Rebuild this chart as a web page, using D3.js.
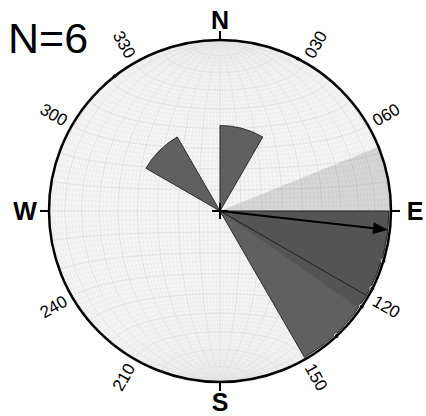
<!DOCTYPE html>
<html>
<head>
<meta charset="utf-8">
<script src="https://d3js.org/d3.v7.min.js"></script>
<style>
  body { margin: 0; background: #fff; }
  svg { display: block; font-family: "Liberation Sans", Arial, sans-serif; }
</style>
</head>
<body>
<div id="rose"></div>
<script>
// rose diagram data (azimuth bins of 30 deg)
var binStart = [0, 30, 60, 90, 120, 150, 180, 210, 240, 270, 300, 330];
var counts   = [1, 0, 0, 2, 2, 0, 0, 0, 0, 0, 1, 0];
var azimuths = [322, 27, 107, 117, 124, 137];
var meanDir = 96.4;
var confCone = [68, 125];
var compass = ["N", "E", "S", "W"];
var compassAz = [0, 90, 180, 270];
var degLabels = ["030", "060", "120", "150", "210", "240", "300", "330"];
var degAz = [30, 60, 120, 150, 210, 240, 300, 330];

width = 426
height = 416
cx = 220
cy = 211
R = 171

var rad = d => d * Math.PI / 180;
var r = d3.scaleLinear().domain([0, d3.max(counts)]).range([0, R]);

var svg = d3.select('#rose').append('svg').attr('width', width).attr('height', height)

svg.append('defs').append('clipPath').attr('id', 'net')
   .append('circle').attr('cx', cx).attr('cy', cy).attr('r', R)

// equal area net background
svg.append('circle').attr('cx', cx).attr('cy', cy).attr('r', R).attr('fill', '#f5f5f5')

var proj = d3.geoAzimuthalEqualArea().rotate([0, 0]).scale(R / Math.SQRT2)
             .translate([cx, cy]).clipAngle(90)
var path = d3.geoPath(proj)
var net = svg.append('g').attr('clip-path', 'url(#net)').attr('fill', 'none')
net.append('path').datum(d3.geoGraticule().step([2, 2])())
   .attr('d', path).attr('stroke', '#e7e7e7').attr('stroke-width', 0.6)
net.append('path').datum(d3.geoGraticule().step([10, 10])())
   .attr('d', path).attr('stroke', '#dfdfdf').attr('stroke-width', 0.8)

// petals
var arc = d3.arc().innerRadius(0)
var g = svg.append('g').attr('transform', 'translate(' + cx + ',' + cy + ')')
g.selectAll('path.petal')
  .data(binStart.map((b, i) => ({start: b, n: counts[i]})).filter(d => d.n > 0))
  .join('path')
    .attr('class', 'petal')
    .attr('d', d => arc({startAngle: rad(d.start), endAngle: rad(d.start + 30),
                         outerRadius: Math.min(r(d.n), R - 2)}))
    .attr('fill', '#606060')
    .attr('stroke', '#2a2a2a')
    .attr('stroke-width', 1)

// confidence cone around the mean direction
g.append('path')
  .attr('d', arc({startAngle: rad(confCone[0]), endAngle: rad(confCone[1]), outerRadius: R - 1}))
  .attr('fill', '#000').attr('fill-opacity', 0.12)

// rim
svg.append('circle').attr('cx', cx).attr('cy', cy).attr('r', R)
   .attr('fill', 'none').attr('stroke', '#000').attr('stroke-width', 2.5)

// data points on the rim
g.selectAll('circle.pt').data(azimuths).join('circle')
  .attr('class', 'pt')
  .attr('cx', d => R * Math.sin(rad(d)))
  .attr('cy', d => -R * Math.cos(rad(d)))
  .attr('r', 2.4)
  .attr('fill', '#000').attr('stroke', '#fff').attr('stroke-width', 1)

// mean vector arrow
var ax = d => (R - 2) * Math.sin(rad(d)), ay = d => -(R - 2) * Math.cos(rad(d));
var ex = ax(meanDir), ey = ay(meanDir);
var ux = Math.sin(rad(meanDir)), uy = -Math.cos(rad(meanDir));
g.append('line').attr('x1', 0).attr('y1', 0)
  .attr('x2', ex - ux * 12).attr('y2', ey - uy * 12)
  .attr('stroke', '#000').attr('stroke-width', 2)
g.append('path')
  .attr('d', 'M' + ex + ',' + ey +
             'L' + (ex - ux * 15 - uy * 6) + ',' + (ey - uy * 15 + ux * 6) +
             'L' + (ex - ux * 15 + uy * 6) + ',' + (ey - uy * 15 - ux * 6) + 'Z')
  .attr('fill', '#000')

// centre cross
g.append('path').attr('d', 'M-8,0H8M0,-8V8').attr('stroke', '#000').attr('stroke-width', 2)

// compass ticks and letters
g.selectAll('line.tick').data(compassAz).join('line')
  .attr('class', 'tick')
  .attr('x1', d => R * Math.sin(rad(d))).attr('y1', d => -R * Math.cos(rad(d)))
  .attr('x2', d => (R + 9) * Math.sin(rad(d))).attr('y2', d => -(R + 9) * Math.cos(rad(d)))
  .attr('stroke', '#000').attr('stroke-width', 2)
g.selectAll('text.cmp').data(compass).join('text')
  .attr('class', 'cmp')
  .attr('x', (d, i) => (R + 24) * Math.sin(rad(compassAz[i])))
  .attr('y', (d, i) => -(R + 20) * Math.cos(rad(compassAz[i])))
  .attr('text-anchor', 'middle').attr('dominant-baseline', 'central')
  .attr('font-size', 25).attr('font-weight', 'bold')
  .text(d => d)

// degree labels along the rim
g.selectAll('text.deg').data(degLabels).join('text')
  .attr('class', 'deg')
  .attr('transform', (d, i) => {
    var a = degAz[i];
    var x = 192 * Math.sin(rad(a)), y = -192 * Math.cos(rad(a));
    var rot = a < 180 ? a - 90 : a - 270;
    return 'translate(' + x + ',' + y + ') rotate(' + rot + ')';
  })
  .attr('text-anchor', 'middle').attr('dominant-baseline', 'central')
  .attr('font-size', 17)
  .text(d => d)

svg.append('text').attr('x', 8).attr('y', 53).attr('font-size', 43).text('N=' + azimuths.length)
</script>
</body>
</html>
